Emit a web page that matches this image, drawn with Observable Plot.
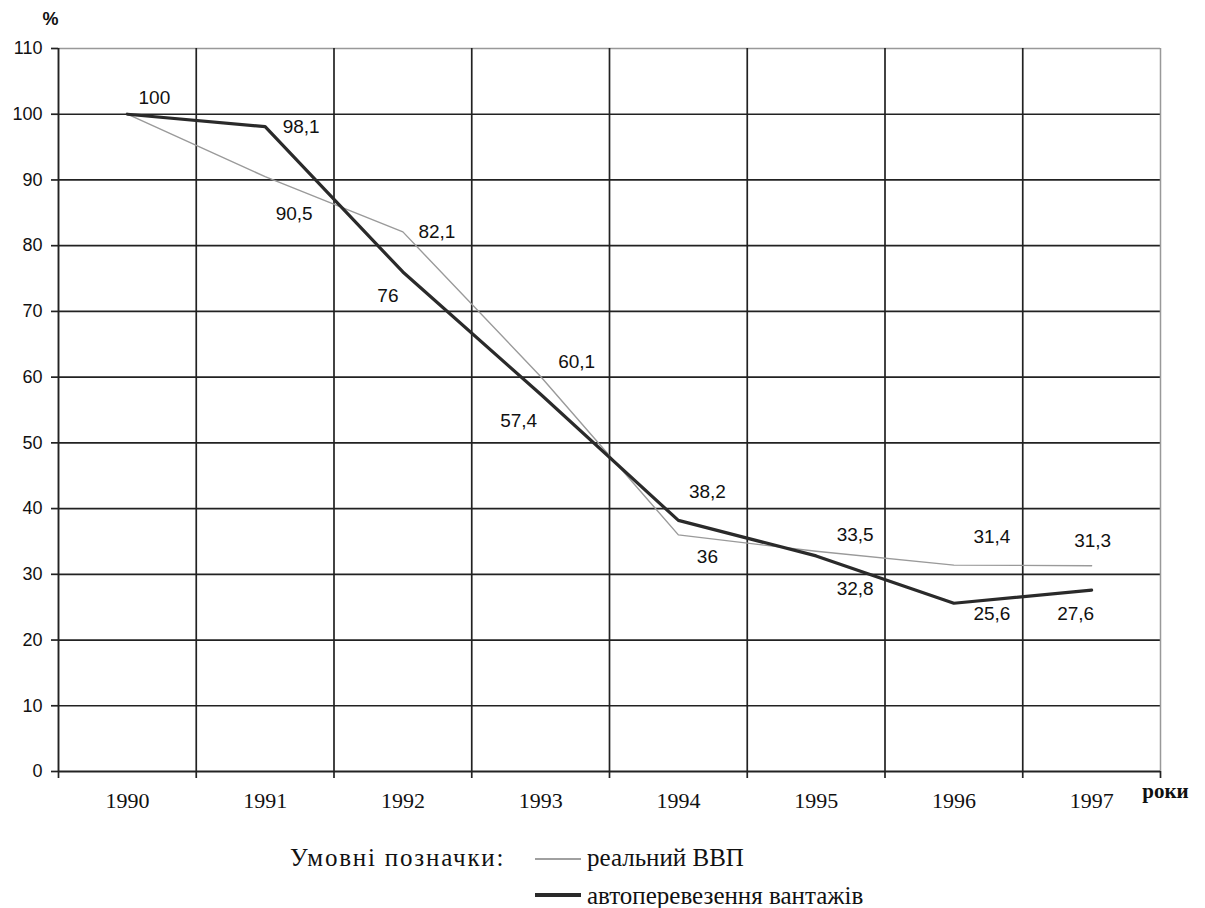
<!DOCTYPE html>
<html><head><meta charset="utf-8">
<script src="https://cdn.jsdelivr.net/npm/d3@7"></script>
<script src="https://cdn.jsdelivr.net/npm/@observablehq/plot@0.6"></script>
<style>
body{margin:0;background:#fff;overflow:hidden;}
#chart{position:absolute;left:0;top:0;}
.lg{position:absolute;font-family:"Liberation Serif","Times New Roman",serif;font-size:25px;line-height:30px;color:#111;white-space:nowrap;}
.sw{position:absolute;}
</style></head><body>
<div id="chart"></div>
<div class="lg" style="left:290px;top:843px;letter-spacing:1.8px">Умовні позначки:</div>
<div class="sw" style="left:535px;top:858px;width:46px;height:1.5px;background:#a0a0a0"></div>
<div class="lg" style="left:587px;top:843px">реальний ВВП</div>
<div class="sw" style="left:535px;top:893px;width:46px;height:3.5px;background:#2a2a2a"></div>
<div class="lg" style="left:587px;top:881px">автоперевезення вантажів</div>
<script>
const years = [1990, 1991, 1992, 1993, 1994, 1995, 1996, 1997];
const gdp = [100, 90.5, 82.1, 60.1, 36, 33.5, 31.4, 31.3];
const freight = [100, 98.1, 76, 57.4, 38.2, 32.8, 25.6, 27.6];
const yTicks = [0, 10, 20, 30, 40, 50, 60, 70, 80, 90, 100, 110];

// label placement offsets (pixels), layout only
const gdpDx = [27, 29, 34, 36, 29, 39, 38, 1];
const gdpDy = [-16, 37, 0, -15, 22, -16, -28, -25];
const frDx = [0, 36, -15, -22, 29, 39, 38, -16];
const frDy = [0, 0, 24, 27, -29, 33, 11, 24];

const rows = years.map((year, i) => ({year, gdp: gdp[i], freight: freight[i]}));
const bounds = years.map(y => y - 0.5).concat([years[years.length - 1] + 0.5]);
const fmt = v => String(v).replace(".", ",");
const sans = "'Liberation Sans', Arial, sans-serif";
const serif = "'Liberation Serif', 'Times New Roman', serif";
const grid = "#222";

const labelMarks = [];
rows.forEach((r, i) => {
  labelMarks.push(Plot.text([r], {x: "year", y: "gdp", text: d => fmt(d.gdp), dx: gdpDx[i], dy: gdpDy[i], fontFamily: sans, fontSize: 19, fill: "#111"}));
  if (i > 0) labelMarks.push(Plot.text([r], {x: "year", y: "freight", text: d => fmt(d.freight), dx: frDx[i], dy: frDy[i], fontFamily: sans, fontSize: 19, fill: "#111"}));
});

const chart = Plot.plot({
  width: 1205, height: 830,
  marginLeft: 58, marginRight: 45, marginTop: 48, marginBottom: 59,
  style: {background: "#fff", overflow: "visible"},
  x: {domain: [bounds[0], bounds[bounds.length - 1]]},
  y: {domain: [0, 110]},
  marks: [
    Plot.ruleY(yTicks.filter(d => d > 0 && d < 110), {stroke: grid, strokeWidth: 1.7}),
    Plot.ruleY([110], {stroke: "#999", strokeWidth: 1.5}),
    Plot.ruleX(bounds.slice(1, -1), {stroke: grid, strokeWidth: 1.7}),
    Plot.ruleX([bounds[bounds.length - 1]], {stroke: "#999", strokeWidth: 1.5}),
    Plot.ruleY([0], {stroke: grid, strokeWidth: 1.9}),
    Plot.ruleX([bounds[0]], {stroke: grid, strokeWidth: 1.9}),
    Plot.axisY(yTicks, {tickSize: 7, tickPadding: 9, label: null, fontFamily: sans, fontSize: 18, stroke: grid, strokeWidth: 1.7, fill: "#111"}),
    Plot.axisX(bounds, {tickSize: 7, tickFormat: () => "", label: null, stroke: grid, strokeWidth: 1.7}),
    Plot.axisX(years, {tickSize: 0, tickPadding: 21, tickFormat: d => String(d), label: null, fontFamily: serif, fontSize: 22, fill: "#111"}),
    Plot.line(rows, {x: "year", y: "gdp", stroke: "#9a9a9a", strokeWidth: 1.4}),
    Plot.line(rows, {x: "year", y: "freight", stroke: "#2a2a2a", strokeWidth: 3.2}),
    ...labelMarks,
    Plot.text(["%"], {frameAnchor: "top-left", textAnchor: "middle", lineAnchor: "middle", dx: -8, dy: -29, text: d => d, fontWeight: "bold", fontSize: 18, fontFamily: sans, fill: "#111"}),
    Plot.text(["роки"], {frameAnchor: "bottom-right", textAnchor: "middle", lineAnchor: "middle", dx: 5, dy: 20, text: d => d, fontWeight: "bold", fontSize: 21, fontFamily: serif, fill: "#111"})
  ]
});
document.getElementById("chart").appendChild(chart);
</script>
</body></html>
